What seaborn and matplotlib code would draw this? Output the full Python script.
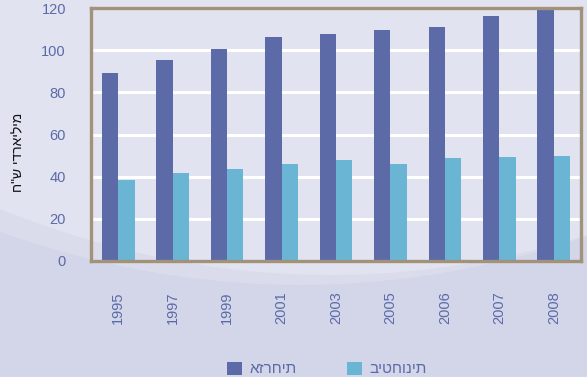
import numpy as np
import pandas as pd
import matplotlib
matplotlib.use("Agg")
import matplotlib.pyplot as plt
from matplotlib.patches import Patch
import seaborn as sns

# Government expenditure by type, billions of NIS
years = ["1995", "1997", "1999", "2001", "2003", "2005", "2006", "2007", "2008"]
civilian = [89.2, 95.4, 100.7, 106.4, 107.8, 109.7, 111.1, 116.4, 119.2]
security = [38.4, 41.7, 43.6, 46.0, 47.9, 46.0, 48.8, 49.3, 49.8]
series_names = ["אזרחית", "ביטחונית"]
y_label = 'מיליארדי ש"ח'
y_ticks = [0, 20, 40, 60, 80, 100, 120]

DARK = "#5d6aa8"
LIGHT = "#6ab4d4"
TEXT_BLUE = "#5b6aa8"
FRAME = "#a3927a"


def visual_rtl(s):
    """Put Hebrew text into visual (right-to-left) order for matplotlib."""
    return s[::-1]


df = pd.DataFrame({
    "year": years * 2,
    "type": [series_names[0]] * len(years) + [series_names[1]] * len(years),
    "value": civilian + security,
})

sns.set_style("white")
plt.rcParams["font.family"] = ["Liberation Sans", "DejaVu Sans"]

W, H = 587, 377
fig = plt.figure(figsize=(W / 100, H / 100), dpi=100)
fig.patch.set_facecolor("#d3d5e8")

# soft curved background bands
bg = fig.add_axes([0, 0, 1, 1], zorder=-10)
bg.set_xlim(0, W)
bg.set_ylim(H, 0)
bg.axis("off")
xs = np.linspace(0, W, 400)
curve_a = 275 - 6.06e-4 * (xs - 330) ** 2
curve_b = 285 - 5.9e-4 * (xs - 300) ** 2
curve_a = np.minimum(curve_a, curve_b)
bg.fill_between(xs, 0, curve_b, color="#dadcec", lw=0)
bg.fill_between(xs, 0, curve_a, color="#e1e3f0", lw=0)

ax = fig.add_axes([91 / W, 1 - 261 / H, 490 / W, 253 / H])
ax.patch.set_visible(False)

sns.barplot(data=df, x="year", y="value", hue="type",
            palette=[DARK, LIGHT], width=0.6, gap=0, saturation=1,
            linewidth=0, edgecolor="none", legend=False, ax=ax)

ax.set_axisbelow(True)
ax.set_ylim(0, 120)
ax.set_xlim(-0.5, len(years) - 0.5)
ax.set_yticks(y_ticks)
ax.yaxis.grid(True, color="white", linewidth=2.2)
ax.xaxis.grid(False)

for sp in ax.spines.values():
    sp.set_visible(True)
    sp.set_color(FRAME)
    sp.set_linewidth(2.4)

ax.tick_params(axis="y", which="major", direction="out", length=6, width=1.2,
               color="#222222", labelcolor=TEXT_BLUE, labelsize=10.5, pad=12)
ax.set_xticks(range(len(years)))
ax.set_xticklabels(years, rotation=90)
ax.set_xticks(np.arange(-0.5, len(years), 1), minor=True)
ax.tick_params(axis="x", which="major", length=0, labelcolor=TEXT_BLUE,
               labelsize=10.5, pad=22)
ax.tick_params(axis="x", which="minor", direction="out", length=6, width=1.2,
               color="#222222")

ax.set_xlabel("")
ax.set_ylabel(visual_rtl(y_label), fontsize=10, color="#111111")
ax.yaxis.set_label_coords(-0.135, 0.43)

handles = [Patch(facecolor=DARK, edgecolor="none"),
           Patch(facecolor=LIGHT, edgecolor="none")]
fig.legend(handles, series_names, loc="center",
           bbox_to_anchor=(327 / W, 1 - 369 / H), ncol=2, frameon=False,
           fontsize=11, labelcolor=TEXT_BLUE, handlelength=0.95,
           handleheight=0.95, handletextpad=0.5, columnspacing=3.3)

fig.savefig("out.png", dpi=100)
